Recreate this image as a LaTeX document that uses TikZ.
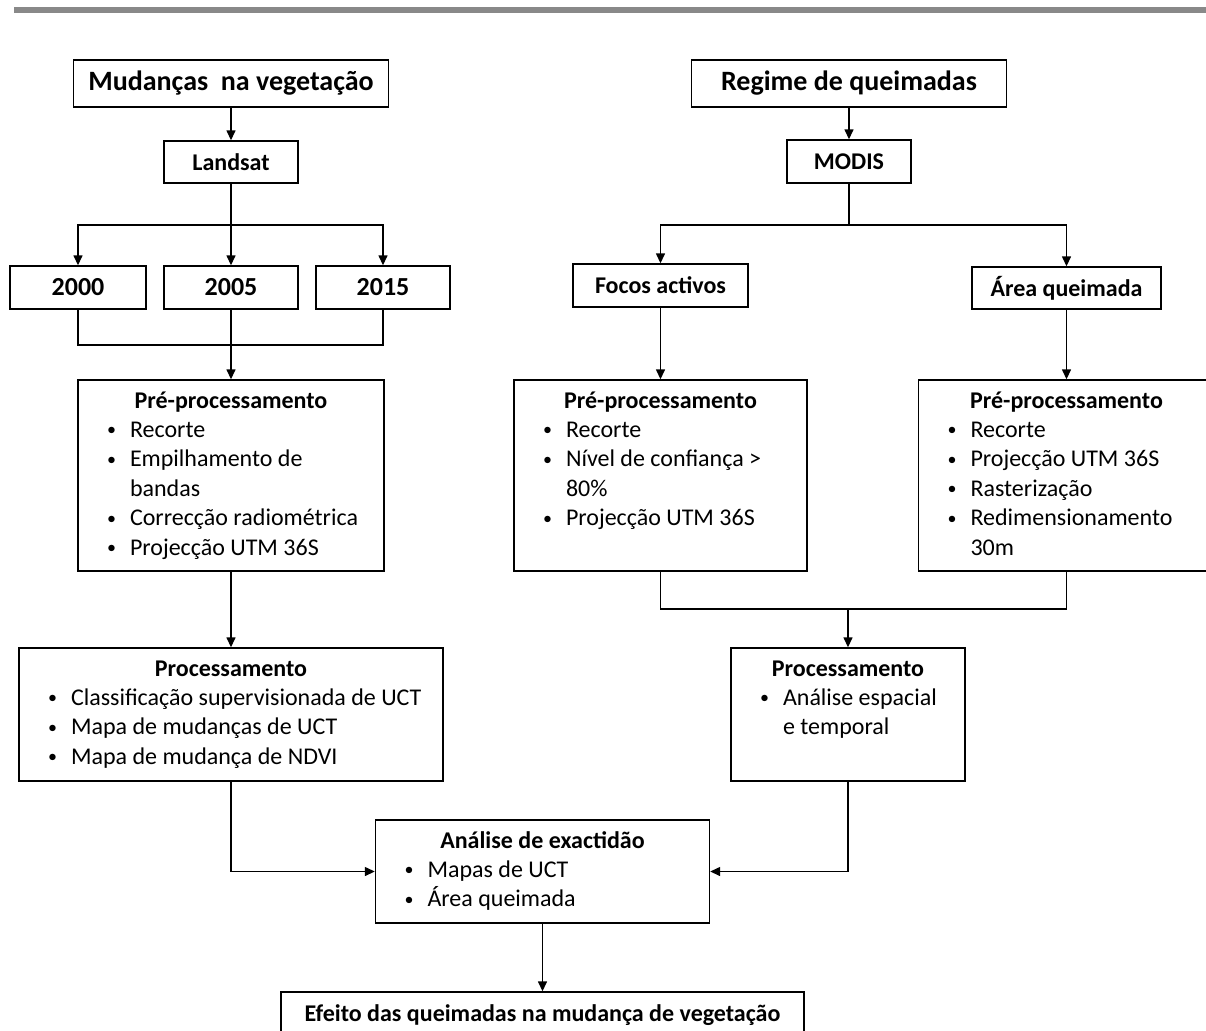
\documentclass[tikz,border=0pt]{standalone}
\usepackage{fontspec}
\setmainfont{Carlito}
\usetikzlibrary{arrows.meta}

\definecolor{barra}{RGB}{137,137,137}

\newcommand{\bloco}[3]{\parbox[c][#2][t]{#1}{\fontsize{12}{14.7}\selectfont\raggedright #3}}
\newcommand{\titulo}[1]{{\centering\bfseries\rule{0pt}{14pt}#1\par}}
\newcommand{\ponto}[1]{\par\hangindent=26pt\hangafter=1\noindent\hspace*{14.5pt}\makebox[11.5pt][l]{\fontsize{9}{9}\selectfont\raisebox{0.8pt}{•}}#1\par}

\begin{document}
\begin{tikzpicture}[ x = 0.5pt, y = -0.5pt, line width = 0.7pt,
        >= { Triangle[ length = 5pt, width = 4.5pt ] },
        caixa/.style = { draw, inner sep = 0pt, align = center, font = \fontsize{12}{14.4}\selectfont\bfseries },
        lista/.style = { draw, inner sep = 0pt } ]
        % поле
        \useasboundingbox ( 0, 0 ) rectangle ( 1206, 1030 );
        \clip ( 0, 0 ) rectangle ( 1206, 1030 );

        % полоса сверху
        \fill [ barra ] ( 14, 7 ) rectangle ( 1206, 13 );

        % левая ветвь
        \node [ caixa, minimum width = 157.5pt, minimum height = 23.5pt, font = \fontsize{14}{17}\selectfont\bfseries ] (mud) at ( 231, 83.5 ) {Mudanças~ na vegetação};
        \node [ caixa, minimum width = 67pt, minimum height = 21pt ] (land) at ( 231, 162 ) {Landsat};
        \coordinate (ramo1) at ( 231, 225 );
        \node [ caixa, minimum width = 68pt, minimum height = 21.5pt, font = \fontsize{13}{15.6}\selectfont\bfseries ] (a2000) at ( 78, 287.5 ) {2000};
        \node [ caixa, minimum width = 67pt, minimum height = 21.5pt, font = \fontsize{13}{15.6}\selectfont\bfseries ] (a2005) at ( 231, 287.5 ) {2005};
        \node [ caixa, minimum width = 67pt, minimum height = 21.5pt, font = \fontsize{13}{15.6}\selectfont\bfseries ] (a2015) at ( 383, 287.5 ) {2015};
        \coordinate (junta1) at ( 231, 345 );
        \node [ lista ] (pre1) at ( 231, 475.5 ) {\bloco{153pt}{95.5pt}{\titulo{Pré-processamento}\ponto{Recorte}\ponto{Empilhamento de\newline bandas}\ponto{Correcção radiométrica}\ponto{Projecção UTM 36S}}};
        \node [ lista ] (proc1) at ( 231, 714.5 ) {\bloco{212pt}{66.5pt}{\titulo{Processamento}\ponto{Classificação supervisionada de UCT}\ponto{Mapa de mudanças de UCT}\ponto{Mapa de mudança de NDVI}}};

        % правая ветвь
        \node [ caixa, minimum width = 157.5pt, minimum height = 23.5pt, font = \fontsize{14}{17}\selectfont\bfseries ] (reg) at ( 849, 83.5 ) {Regime de queimadas};
        \node [ caixa, minimum width = 62pt, minimum height = 21.5pt ] (modis) at ( 849, 161.5 ) {MODIS};
        \coordinate (ramo2) at ( 849, 225 );
        \node [ caixa, minimum width = 87.5pt, minimum height = 21.5pt ] (focos) at ( 660.5, 285.5 ) {Focos activos};
        \node [ caixa, minimum width = 94.5pt, minimum height = 21pt ] (area) at ( 1066.5, 288 ) {Área queimada};
        \node [ lista ] (pre2) at ( 660.5, 475.5 ) {\bloco{146.5pt}{95.5pt}{\titulo{Pré-processamento}\ponto{Recorte}\ponto{Nível de confiança >\newline 80\%}\ponto{Projecção UTM 36S}}};
        \node [ lista ] (pre3) at ( 1066.5, 475.5 ) {\bloco{148pt}{95.5pt}{\titulo{Pré-processamento}\ponto{Recorte}\ponto{Projecção UTM 36S}\ponto{Rasterização}\ponto{Redimensionamento\newline 30m}}};
        \coordinate (junta2) at ( 848, 609 );
        \node [ lista ] (proc2) at ( 848, 714.5 ) {\bloco{117pt}{66.5pt}{\titulo{Processamento}\ponto{Análise espacial\newline e temporal}}};

        % итог
        \node [ lista ] (ana) at ( 542.5, 871.5 ) {\bloco{167pt}{51.5pt}{\titulo{Análise de exactidão}\ponto{Mapas de UCT}\ponto{Área queimada}}};
        \node [ caixa, minimum width = 261.5pt, minimum height = 23pt ] (efe) at ( 542.5, 1015 ) {Efeito das queimadas na mudança de vegetação};

        % стрелки слева
        \draw [->] (mud) -- (land);
        \draw [->] (land) -- (ramo1) -| (a2000);
        \draw [->] (ramo1) -| (a2015);
        \draw [->] (ramo1) -- (a2005);
        \draw (a2000) |- (junta1);
        \draw (a2015) |- (junta1);
        \draw [->] (a2005) -- (pre1);
        \draw [->] (pre1) -- (proc1);

        % стрелки справа
        \draw [->] (reg) -- (modis);
        \draw [->] (modis) -- (ramo2) -| (focos);
        \draw [->] (ramo2) -| (area);
        \draw [->] (focos) -- (pre2);
        \draw [->] (area) -- (pre3);
        \draw (pre2) |- (junta2);
        \draw (pre3) |- (junta2);
        \draw [->] (junta2) -- (proc2);

        % стрелки к итогу
        \draw [->] (proc1) |- (ana);
        \draw [->] (proc2) |- (ana);
        \draw [->] (ana) -- (efe);
\end{tikzpicture}
\end{document}
